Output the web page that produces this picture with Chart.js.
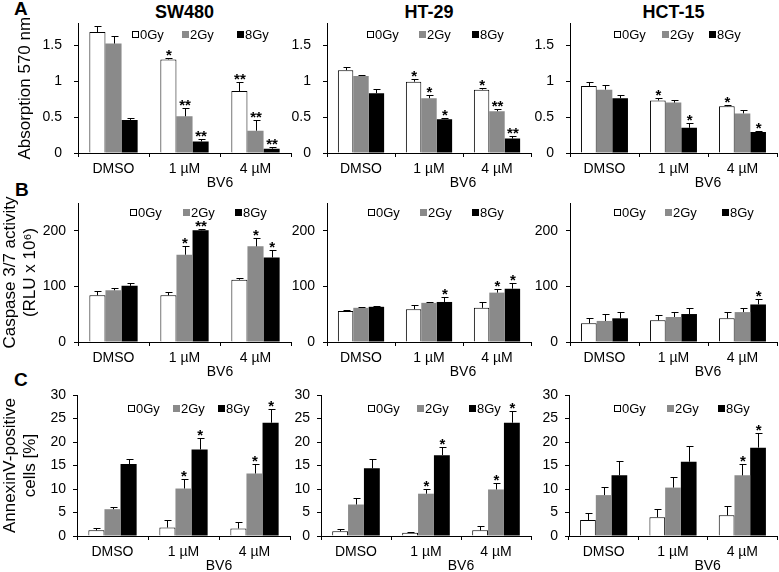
<!DOCTYPE html>
<html lang="en">
<head>
<meta charset="UTF-8">
<title>BV6 plus irradiation</title>
<script src="https://cdn.jsdelivr.net/npm/chart.js"></script>
<style>
  body { margin: 0; background: #fff; font-family: 'Liberation Sans', Arial, sans-serif; color: #000; }
  #fig { position: relative; width: 779px; height: 572px; overflow: hidden; }
  #fig canvas { position: absolute; }
  .letter { position: absolute; font-weight: bold; font-size: 19px; line-height: 18px; }
  .title { position: absolute; font-weight: bold; font-size: 18px; line-height: 20px; text-align: center; top: 2px; }
</style>
</head>
<body>
<div id="fig">
  <div class="letter" style="left:14px; top:0px;">A</div>
  <div class="letter" style="left:15px; top:181px;">B</div>
  <div class="letter" style="left:14px; top:371px;">C</div>
  <div class="title" style="left:78px; width:213px;">SW480</div>
  <div class="title" style="left:327px; width:204px;">HT-29</div>
  <div class="title" style="left:570px; width:207px;">HCT-15</div>
</div>
<script>
const doses = ['0Gy', '2Gy', '8Gy'];
const treatments = ['DMSO', '1 µM', '4 µM'];
const cellLines = ['SW480', 'HT-29', 'HCT-15'];

// each cell line: rows = 0Gy, 2Gy, 8Gy ; columns = DMSO, 1 µM, 4 µM
const absorption = [
  [[1.68, 1.30, 0.86], [1.52, 0.51, 0.31], [0.46, 0.16, 0.06]],
  [[1.15, 0.99, 0.88], [1.07, 0.76, 0.58], [0.83, 0.47, 0.20]],
  [[0.93, 0.73, 0.65], [0.88, 0.70, 0.55], [0.76, 0.35, 0.29]]
];
const absorptionErr = [
  [[0.09, 0.02, 0.13], [0.11, 0.11, 0.15], [0.03, 0.035, 0.02]],
  [[0.04, 0.04, 0.02], [0.02, 0.04, 0.035], [0.06, 0.01, 0.04]],
  [[0.05, 0.04, 0.02], [0.07, 0.04, 0.05], [0.05, 0.06, 0.02]]
];
const absorptionSig = [
  [['', '*', '**'], ['', '**', '**'], ['', '**', '**']],
  [['', '*', '*'], ['', '*', '**'], ['', '*', '**']],
  [['', '*', '*'], ['', '', ''], ['', '*', '*']]
];

const caspase = [
  [[84, 84, 112], [93, 157, 172], [101, 201, 152]],
  [[55.6, 59, 61.5], [61.5, 70.4, 88.8], [63.3, 72, 95.9]],
  [[33.7, 39, 42.6], [37.9, 45, 53.8], [42.6, 50.3, 67.5]]
];
const caspaseErr = [
  [[7, 6, 3], [3.5, 16, 15], [6, 3, 14]],
  [[1.5, 6.7, 10], [1.2, 1.6, 6.5], [1.7, 9, 10.6]],
  [[10, 9.5, 10.7], [11.8, 9.4, 8.2], [11.8, 10, 10.5]]
];
const caspaseSig = [
  [['', '', ''], ['', '*', '*'], ['', '**', '*']],
  [['', '', ''], ['', '', '*'], ['', '*', '*']],
  [['', '', ''], ['', '', ''], ['', '', '*']]
];

const annexin = [
  [[1.2, 1.8, 1.6], [5.7, 10.1, 13.3], [15.3, 18.4, 24.1]],
  [[1.0, 0.7, 1.2], [6.7, 9.0, 9.9], [14.4, 17.2, 24.1]],
  [[3.4, 4.0, 4.4], [8.7, 10.3, 12.9], [12.9, 15.8, 18.8]]
];
const annexinErr = [
  [[0.6, 1.7, 1.3], [0.5, 2.1, 2.05], [1.0, 2.35, 3.0]],
  [[0.5, 0.2, 0.9], [1.3, 1.0, 1.3], [2.0, 1.7, 2.6]],
  [[1.5, 1.7, 1.9], [1.7, 2.2, 2.45], [3.1, 3.3, 3.2]]
];
const annexinSig = [
  [['', '', ''], ['', '*', '*'], ['', '*', '*']],
  [['', '', ''], ['', '*', '*'], ['', '*', '*']],
  [['', '', ''], ['', '', '*'], ['', '', '*']]
];

const yTitles = ['Absorption 570 nm', ['Caspase 3/7 activity', '(RLU x 10⁶)'], ['AnnexinV-positive', 'cells [%]']];
const yMax = [1.8, 250, 30];
const yStep = [0.5, 100, 5];
const xTitle = 'BV6';

const assays = [
  [absorption, absorptionErr, absorptionSig],
  [caspase, caspaseErr, caspaseSig],
  [annexin, annexinErr, annexinSig]
];

const FONT = "'Liberation Sans', Arial, sans-serif";
const fills = ['#ffffff', '#8a8a8a', '#000000'];

// plot area of every panel, in page pixels
const rows = [
  { top: 23, bottom: 153, cols: [[78, 291], [327, 531], [570, 777]], tickPad: 12, titleShift: 15,
    legendY: 34, legendX: [[132, 182, 237], [367, 419, 472], [614, 662, 709]] },
  { top: 203, bottom: 342, cols: [[78, 291], [327, 531], [570, 777]], tickPad: 8, titleShift: 0,
    legendY: 212, legendX: [[130, 183, 235], [368, 420, 472], [614, 665, 722]] },
  { top: 395, bottom: 536, cols: [[77, 290], [321, 531], [569, 777]], tickPad: 7, titleShift: 0,
    legendY: 408, legendX: [[128, 173, 218], [368, 417, 469], [614, 667, 718]] }
];

const panelExtras = {
  id: 'panelExtras',
  afterDatasetsDraw(chart) {
    const ctx = chart.ctx;
    const yS = chart.scales.y;
    ctx.save();
    ctx.strokeStyle = '#000';
    ctx.fillStyle = '#000';
    ctx.lineWidth = 1;
    ctx.font = 'bold 15px ' + FONT;
    ctx.textAlign = 'center';
    ctx.textBaseline = 'alphabetic';
    chart.data.datasets.forEach((ds, i) => {
      chart.getDatasetMeta(i).data.forEach((bar, j) => {
        const top = Math.round(yS.getPixelForValue(ds.data[j] + ds.err[j])) + 0.5;
        const x = Math.round(bar.x) + 0.5;
        ctx.beginPath();
        ctx.moveTo(x, bar.y);
        ctx.lineTo(x, top);
        ctx.moveTo(x - 3, top);
        ctx.lineTo(x + 4, top);
        ctx.stroke();
        if (ds.sig[j]) ctx.fillText(ds.sig[j], bar.x + 0.5, top + 1);
      });
    });
    ctx.restore();
  },
  afterDraw(chart, args, opts) {
    const ctx = chart.ctx;
    const xS = chart.scales.x;
    const area = chart.chartArea;
    ctx.save();
    // BV6 under the two BV6 doses
    ctx.fillStyle = '#000';
    ctx.font = '14px ' + FONT;
    ctx.textAlign = 'center';
    ctx.textBaseline = 'middle';
    ctx.fillText(xTitle, (xS.getPixelForValue(1) + xS.getPixelForValue(2)) / 2, area.bottom + 30);
    // legend
    ctx.font = '13px ' + FONT;
    ctx.textAlign = 'left';
    const y = opts.legendY - opts.offsetY;
    chart.data.datasets.forEach((ds, i) => {
      const x = opts.legendX[i] - opts.offsetX;
      ctx.fillStyle = ds.backgroundColor;
      ctx.fillRect(x, y - 3, 7, 7);
      if (i === 0) {
        ctx.strokeStyle = '#000';
        ctx.lineWidth = 1;
        ctx.strokeRect(x + 0.5, y - 2.5, 6, 6);
      }
      ctx.fillStyle = '#000';
      ctx.fillText(ds.label, x + 8, y + 1);
    });
    ctx.restore();
  }
};

const fig = document.getElementById('fig');

rows.forEach((row, r) => {
  const [values, errs, sigs] = assays[r];
  row.cols.forEach(([L, R], c) => {
    const cLeft = c === 0 ? 0 : L - 60;
    const padLeft = c === 0 ? row.titleShift : 0;
    const cTop = row.top - 20;
    const cRight = Math.min(R + 6, 779);
    const cBottom = row.bottom + 42;
    const canvas = document.createElement('canvas');
    canvas.width = cRight - cLeft;
    canvas.height = cBottom - cTop;
    canvas.style.left = cLeft + 'px';
    canvas.style.top = cTop + 'px';
    canvas.style.width = canvas.width + 'px';
    canvas.style.height = canvas.height + 'px';
    fig.appendChild(canvas);

    new Chart(canvas, {
      type: 'bar',
      data: {
        labels: treatments,
        datasets: doses.map((d, i) => ({
          label: d,
          data: values[c][i],
          err: errs[c][i],
          sig: sigs[c][i],
          backgroundColor: fills[i],
          borderColor: '#000',
          borderWidth: i === 0 ? 1 : 0,
          categoryPercentage: 0.68,
          barPercentage: 1
        }))
      },
      options: {
        responsive: false,
        animation: false,
        devicePixelRatio: 1,
        layout: { padding: { left: padLeft, top: row.top - cTop, right: cRight - R, bottom: 0 } },
        plugins: {
          legend: { display: false },
          tooltip: { enabled: false },
          panelExtras: { legendX: row.legendX[c], legendY: row.legendY, offsetX: cLeft, offsetY: cTop }
        },
        scales: {
          x: {
            grid: { drawOnChartArea: false, drawTicks: true, tickLength: 4, color: '#000', offset: true },
            border: { color: '#000', width: 1 },
            ticks: { color: '#000', font: { family: FONT, size: 14 }, padding: 4, maxRotation: 0, autoSkip: false },
            afterFit: s => { s.height = cBottom - row.bottom; }
          },
          y: {
            min: 0,
            max: yMax[r],
            ticks: {
              stepSize: yStep[r],
              includeBounds: false,
              color: '#000',
              font: { family: FONT, size: 14 },
              padding: row.tickPad,
              callback: v => String(+v.toFixed(2))
            },
            grid: { drawOnChartArea: false, tickLength: 4, color: '#000' },
            border: { color: '#000', width: 1 },
            title: {
              display: c === 0,
              text: yTitles[r],
              color: '#000',
              font: { family: FONT, size: 17 },
              padding: 0
            },
            afterFit: s => { s.width = L - cLeft - padLeft; }
          }
        }
      },
      plugins: [panelExtras]
    });
  });
});
</script>
</body>
</html>
